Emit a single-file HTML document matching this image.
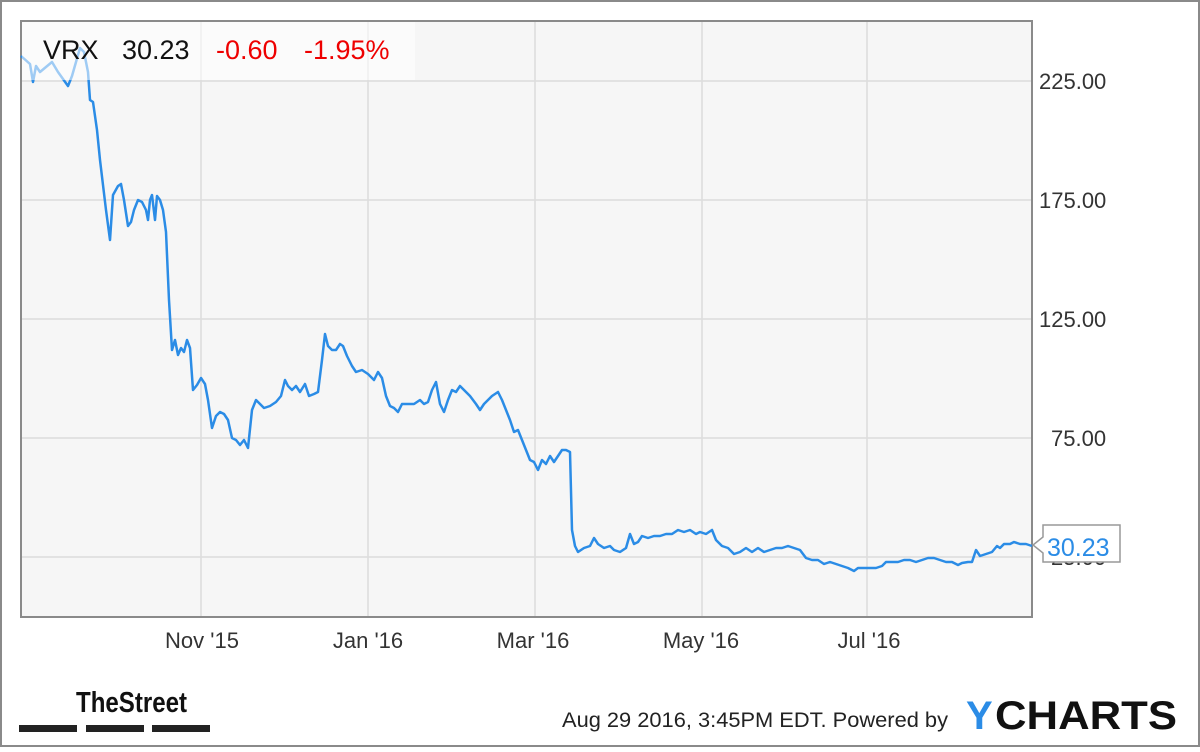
<!DOCTYPE html>
<html><head><meta charset="utf-8"><style>
html,body{margin:0;padding:0;background:#fff}
body{width:1200px;height:747px;overflow:hidden;font-family:"Liberation Sans",Arial,sans-serif}
</style></head><body>
<svg width="1200" height="747" xmlns="http://www.w3.org/2000/svg" font-family="Liberation Sans, Arial, sans-serif">
<rect x="1" y="1" width="1198" height="745" fill="#fff" stroke="#8a8a8a" stroke-width="2"/>
<rect x="21" y="21" width="1011" height="596" fill="#f6f6f6" stroke="#8a8a8a" stroke-width="2"/>
<g stroke="#dcdcdc" stroke-width="1.5">
<line x1="201" y1="22" x2="201" y2="616"/><line x1="368" y1="22" x2="368" y2="616"/>
<line x1="535" y1="22" x2="535" y2="616"/><line x1="702" y1="22" x2="702" y2="616"/>
<line x1="867" y1="22" x2="867" y2="616"/>
<line x1="22" y1="81" x2="1031" y2="81"/><line x1="22" y1="200" x2="1031" y2="200"/>
<line x1="22" y1="319" x2="1031" y2="319"/><line x1="22" y1="438" x2="1031" y2="438"/>
<line x1="22" y1="557" x2="1031" y2="557"/>
</g>
<polyline fill="none" stroke="#2b8ce6" stroke-width="2.5" stroke-linejoin="round" points="21,56 30,64 33,82 36,66 40,72 52,62 58,72 68,86 72,76 76,62 80,48 84,52 88,72 90,100 93,102 97,130 100,160 106,210 110,240 113,195 118,186 121,184 124,200 128,226 131,222 134,210 138,200 142,202 146,210 148,220 150,200 152,195 155,220 157,196 160,200 163,210 166,232 169,300 172,350 175,340 178,355 181,348 184,352 187,340 190,348 193,390 197,385 201,378 205,384 208,400 212,428 216,416 220,412 224,414 228,420 232,438 236,440 240,445 244,440 248,448 252,410 256,400 260,404 264,408 270,406 276,402 281,396 285,380 288,386 292,390 296,386 300,392 305,384 309,396 314,394 318,392 322,360 325,334 328,346 332,350 336,350 340,344 343,346 347,356 352,366 356,372 362,370 368,374 374,380 378,372 382,378 386,396 390,406 394,408 398,412 402,404 408,404 414,404 420,400 424,404 428,402 432,390 436,382 440,404 444,412 448,400 452,390 456,392 460,386 464,390 470,396 476,404 480,410 484,404 488,400 492,396 498,392 502,400 506,410 510,420 514,432 518,430 522,440 526,450 530,460 534,462 538,470 542,460 546,464 550,456 554,462 558,456 562,450 566,450 570,452 572,530 575,546 578,552 584,548 590,546 594,538 598,544 604,548 610,546 614,550 620,552 626,548 630,534 634,544 638,542 642,536 648,538 654,536 660,536 666,534 672,534 678,530 684,532 690,530 696,534 700,532 706,534 712,530 716,540 722,546 728,548 734,554 740,552 746,548 752,552 758,548 764,552 770,550 776,548 782,548 788,546 794,548 800,550 806,558 812,560 818,560 824,564 830,562 836,564 842,566 848,568 854,571 858,568 864,568 870,568 876,568 882,566 886,562 892,562 898,562 904,560 910,560 916,562 922,560 928,558 934,558 940,560 946,562 952,562 958,565 962,563 968,562 972,562 976,550 980,556 986,554 992,552 997,546 1000,548 1004,544 1010,544 1014,542 1020,544 1026,544 1032,546"/>
<rect x="22" y="22" width="393" height="58" fill="#fff" opacity="0.55"/>
<g font-size="27">
<text x="43" y="59" fill="#111">VRX</text>
<text x="122" y="59" fill="#111">30.23</text>
<text x="216" y="59" fill="#e00">-0.60</text>
<text x="304" y="59" fill="#e00">-1.95%</text>
</g>
<g font-size="22" fill="#333">
<text x="1039" y="89">225.00</text><text x="1039" y="208">175.00</text>
<text x="1039" y="327">125.00</text><text x="1051" y="446">75.00</text>
<text x="1051" y="565">25.00</text>
</g>
<path d="M1043,525 H1120 V562 H1043 V553 L1033,545 L1043,537 Z" fill="#fff" stroke="#999" stroke-width="1.5"/>
<text x="1047" y="556" font-size="25" fill="#2b8ce6">30.23</text>
<g font-size="22" fill="#333" text-anchor="middle">
<text x="202" y="648">Nov '15</text><text x="368" y="648">Jan '16</text>
<text x="533" y="648">Mar '16</text><text x="701" y="648">May '16</text>
<text x="869" y="648">Jul '16</text>
</g>
<text x="76" y="712" font-size="29" font-weight="bold" fill="#111" textLength="111" lengthAdjust="spacingAndGlyphs">TheStreet</text>
<rect x="19" y="725" width="58" height="7" fill="#222"/><rect x="86" y="725" width="58" height="7" fill="#222"/><rect x="152" y="725" width="58" height="7" fill="#222"/>
<text x="562" y="727" font-size="21" fill="#222" textLength="386" lengthAdjust="spacingAndGlyphs">Aug 29 2016, 3:45PM EDT.  Powered by</text>
<text x="966" y="729" font-size="40" font-weight="bold" fill="#2b8ce6">Y</text>
<text x="995" y="729" font-size="40" font-weight="bold" fill="#111" textLength="182" lengthAdjust="spacingAndGlyphs">CHARTS</text>
</svg>
</body></html>
